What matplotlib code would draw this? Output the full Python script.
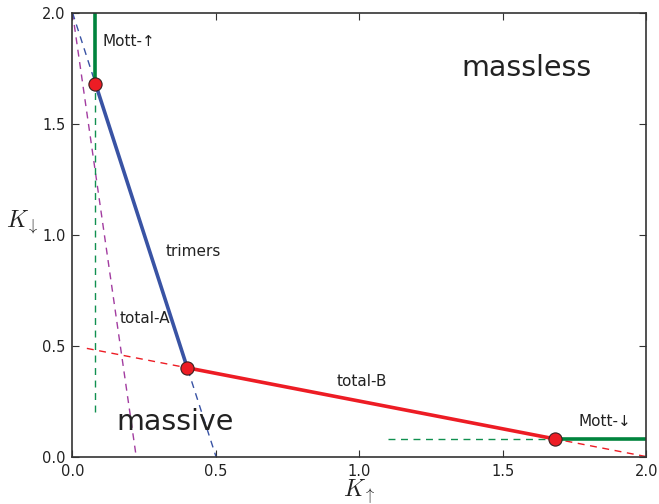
import matplotlib
matplotlib.use("Agg")
import matplotlib.pyplot as plt

plt.rcParams["mathtext.fontset"] = "cm"

# Data
crit_x = [0.08, 0.40, 1.68]
crit_y = [1.68, 0.40, 0.08]

trimers_x = [0.08, 0.40]
trimers_y = [1.68, 0.40]
trimers_dash_x = [0.0, 0.50]
trimers_dash_y = [2.0, 0.0]

totalB_x = [0.40, 1.68]
totalB_y = [0.40, 0.08]
totalB_dash_x = [0.05, 2.0]
totalB_dash_y = [0.4875, 0.0]

totalA_dash_x = [0.0, 0.222]
totalA_dash_y = [2.0, 0.0]

mott_up_x = [0.08, 0.08]
mott_up_y = [1.68, 2.0]
mott_up_dash_x = [0.08, 0.08]
mott_up_dash_y = [0.20, 1.68]

mott_dn_x = [1.68, 2.0]
mott_dn_y = [0.08, 0.08]
mott_dn_dash_x = [1.10, 1.68]
mott_dn_dash_y = [0.08, 0.08]

ticks = [0.0, 0.5, 1.0, 1.5, 2.0]
tick_labels = ["0.0", "0.5", "1.0", "1.5", "2.0"]

blue = "#3953a4"
red = "#ed1c24"
green = "#00843d"
green_dash = "#109050"
magenta = "#a23ca0"

fig = plt.figure(figsize=(6.59, 5.04), dpi=100)
ax = fig.add_axes([0.110, 0.094, 0.871, 0.881])

ax.plot(totalA_dash_x, totalA_dash_y, ls=(0, (5, 4)), color=magenta, lw=1.0)
ax.plot(trimers_dash_x, trimers_dash_y, ls=(0, (5, 4)), color=blue, lw=1.0)
ax.plot(totalB_dash_x, totalB_dash_y, ls=(0, (5, 4)), color=red, lw=1.0)
ax.plot(mott_up_dash_x, mott_up_dash_y, ls=(0, (5, 4)), color=green_dash, lw=1.0)
ax.plot(mott_dn_dash_x, mott_dn_dash_y, ls=(0, (5, 4)), color=green_dash, lw=1.0)

ax.plot(trimers_x, trimers_y, color=blue, lw=2.6, solid_capstyle="butt")
ax.plot(totalB_x, totalB_y, color=red, lw=2.6, solid_capstyle="butt")
ax.plot(mott_up_x, mott_up_y, color=green, lw=2.6, solid_capstyle="butt", clip_on=False)
ax.plot(mott_dn_x, mott_dn_y, color=green, lw=2.6, solid_capstyle="butt", clip_on=False)

ax.plot(crit_x, crit_y, ls="none", marker="o", ms=9.5, mfc=red,
        mec="#3a2020", mew=0.8, zorder=5, clip_on=False)

tc = "#222222"
ax.text(0.106, 1.87, "Mott-\u2191", fontsize=11, color=tc, ha="left", va="center")
ax.text(1.855, 0.16, "Mott-\u2193", fontsize=11, color=tc, ha="center", va="center")
ax.text(0.42, 0.925, "trimers", fontsize=11, color=tc, ha="center", va="center")
ax.text(0.253, 0.624, "total-A", fontsize=11, color=tc, ha="center", va="center")
ax.text(1.008, 0.34, "total-B", fontsize=11, color=tc, ha="center", va="center")
ax.text(1.583, 1.75, "massless", fontsize=20.5, color=tc, ha="center", va="center")
ax.text(0.357, 0.155, "massive", fontsize=20.5, color=tc, ha="center", va="center")

ax.set_xlim(0, 2)
ax.set_ylim(0, 2)
ax.set_xticks(ticks)
ax.set_xticklabels(tick_labels)
ax.set_yticks(ticks)
ax.set_yticklabels(tick_labels)
ax.tick_params(direction="in", top=True, right=True, length=5, width=0.8,
               labelsize=10.5, colors="#333333", labelcolor="#222222", pad=5)
for s in ax.spines.values():
    s.set_color("#333333")
    s.set_linewidth(1.2)

ax.set_xlabel(r"$K_\uparrow$", fontsize=17, color=tc, labelpad=-1)
ax.set_ylabel(r"$K_\downarrow$", fontsize=17, color=tc, rotation=0, labelpad=14)

fig.savefig("out.png", dpi=100)
